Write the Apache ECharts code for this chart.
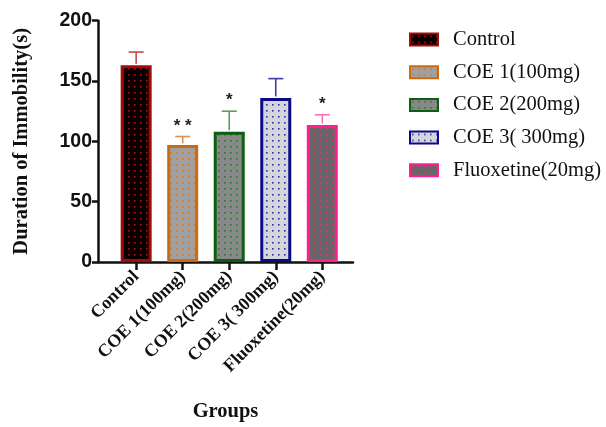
<!DOCTYPE html>
<html><head><meta charset="utf-8">
<script src="https://cdn.jsdelivr.net/npm/echarts@6/dist/echarts.min.js"></script>
<style>html,body{margin:0;padding:0;background:#fff}#c{width:606px;height:427px}</style>
</head><body><div id="c"></div>
<script>
const categories = ['Control', 'COE 1(100mg)', 'COE 2(200mg)', 'COE 3( 300mg)', 'Fluoxetine(20mg)'];
const means = [163, 97, 108, 136, 113.5];
const errUpper = [174, 104, 125, 152, 122];
const signif = ['', '**', '*', '', '*'];
const yTicks = [0, 50, 100, 150, 200];

const borderColors = ['#A30B0B', '#CC6A14', '#0D5E12', '#0B0B8A', '#FF1F8E'];
const fillColors = ['#0A0000', '#A0A0A0', '#888888', '#D5D5DD', '#666666'];
const dotColors = ['#B01515', '#D07A30', '#2A7A2A', '#3030A0', '#E0307E'];
const errColors = ['#C24A4A', '#E09050', '#5C9C5C', '#3A3AA8', '#FF70B0'];

function pattern(bg, dot) {
  const c = document.createElement('canvas');
  c.width = 6; c.height = 6;
  const g = c.getContext('2d');
  g.fillStyle = bg; g.fillRect(0, 0, 6, 6);
  g.fillStyle = dot; g.fillRect(2, 2, 1.6, 1.6);
  return c;
}

const serif = '"Liberation Serif", "Times New Roman", serif';
const chart = echarts.init(document.getElementById('c'));

const series = categories.map((name, i) => ({
  name: name,
  type: 'bar',
  barWidth: 31,
  barGap: '-100%',
  data: [[i, means[i]]],
  itemStyle: {
    color: { image: pattern(fillColors[i], dotColors[i]), repeat: 'repeat' },
    borderColor: borderColors[i],
    borderWidth: 3
  },
  z: 2
}));

series.push({
  type: 'custom',
  name: 'err',
  z: 3,
  data: categories.map((n, i) => [i, means[i], errUpper[i]]),
  renderItem: function (params, api) {
    const i = api.value(0);
    const top = api.coord([i, api.value(2)]);
    const base = api.coord([i, api.value(1)]);
    const col = errColors[i];
    const children = [
      { type: 'line', shape: { x1: top[0], y1: base[1] - 1.5, x2: top[0], y2: top[1] }, style: { stroke: col, lineWidth: 1.6 } },
      { type: 'line', shape: { x1: top[0] - 7.5, y1: top[1], x2: top[0] + 7.5, y2: top[1] }, style: { stroke: col, lineWidth: 1.6 } }
    ];
    if (signif[i]) {
      children.push({
        type: 'text',
        style: {
          text: signif[i].split('').join(' '), x: top[0], y: top[1] - 2,
          align: 'center', verticalAlign: 'bottom',
          font: 'bold 17px "Liberation Sans", Arial, sans-serif', fill: '#222'
        }
      });
    }
    return { type: 'group', children: children };
  }
});

chart.setOption({
  animation: false,
  grid: { left: 98, width: 255, top: 20.7, height: 247, containLabel: false },
  legend: {
    orient: 'vertical',
    left: 404,
    top: 24,
    icon: 'rect',
    itemWidth: 28,
    itemHeight: 12,
    itemGap: 11.7,
    data: categories,
    textStyle: { fontFamily: serif, fontSize: 20.5, color: '#111', padding: [0, 0, 0, 10] }
  },
  xAxis: {
    type: 'value',
    min: -0.82,
    max: 4.66,
    splitLine: { show: false },
    axisLine: { show: true, onZero: false, lineStyle: { color: '#111', width: 2.5 } },
    axisTick: { show: true, length: 8, lineStyle: { color: '#111', width: 2.5 }, customValues: [0, 1, 2, 3, 4] },
    axisLabel: {
      customValues: [0, 1, 2, 3, 4],
      rotate: 45,
      margin: 12,
      formatter: v => categories[Math.round(v)] || '',
      fontFamily: serif, fontWeight: 'bold', fontSize: 18, color: '#111'
    },
    name: 'Groups',
    nameLocation: 'middle',
    nameGap: 139,
    nameTextStyle: { fontFamily: serif, fontWeight: 'bold', fontSize: 20.5, color: '#111' }
  },
  yAxis: {
    type: 'value',
    min: 0, max: 200, interval: 50,
    splitLine: { show: false },
    axisLine: { show: true, onZero: false, lineStyle: { color: '#111', width: 2.5 } },
    axisTick: { show: true, length: 6, lineStyle: { color: '#111', width: 2.5 } },
    axisLabel: {
      margin: 6,
      formatter: v => yTicks.includes(v) ? String(v) : '',
      fontFamily: '"Liberation Sans", Arial, sans-serif', fontWeight: 'bold', fontSize: 19.5, color: '#111'
    },
    name: 'Duration of Immobility(s)',
    nameLocation: 'middle',
    nameGap: 66,
    nameTextStyle: { fontFamily: serif, fontWeight: 'bold', fontSize: 20.5, color: '#111' }
  },
  series: series
});
</script></body></html>
